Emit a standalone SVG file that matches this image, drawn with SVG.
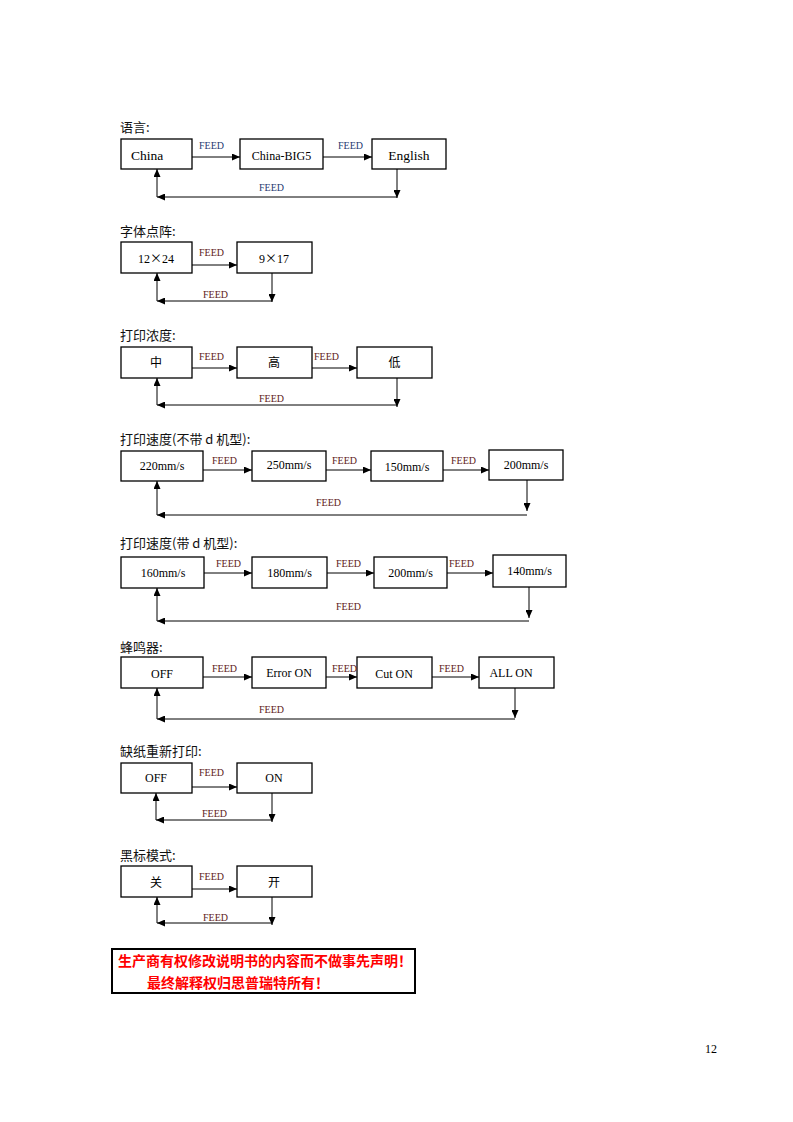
<svg xmlns="http://www.w3.org/2000/svg" width="793" height="1122" viewBox="0 0 793 1122">
<style>
.bg{fill:#ffffff}
.box{fill:#ffffff;stroke:#000000;stroke-width:1.3}
.t{font-family:"Liberation Serif","Times New Roman",serif;font-size:12px;fill:#000000;text-anchor:middle}
.tc{font-family:"Noto Sans CJK SC",sans-serif;font-size:12px;fill:#000000;text-anchor:middle}
.title{font-family:"Noto Sans CJK SC",sans-serif;font-size:13px;fill:#111111}
.fb{font-family:"Liberation Serif","Times New Roman",serif;font-size:10px;fill:#1f3a72}
.fr{font-family:"Liberation Serif","Times New Roman",serif;font-size:10px;fill:#5e1a1a}
.ln{fill:none;stroke:#000000;stroke-width:1;marker-end:url(#ah)}
.note{font-family:"Noto Sans CJK SC",sans-serif;font-size:14px;font-weight:bold;fill:#ff0000}
</style>
<defs>
<marker id="ah" markerUnits="userSpaceOnUse" markerWidth="9" markerHeight="7" refX="8" refY="3.5" orient="auto">
<path d="M0,0 L8,3.5 L0,7 z" fill="#000000"/>
</marker>
</defs>
<rect class="bg" x="0" y="0" width="793" height="1122"/>

<g id="titles">
<text class="title" x="120" y="132">语言:</text>
<text class="title" x="120" y="236">字体点阵:</text>
<text class="title" x="120" y="340">打印浓度:</text>
<text class="title" x="120" y="444">打印速度(不带 d 机型):</text>
<text class="title" x="120" y="548">打印速度(带 d 机型):</text>
<text class="title" x="120" y="652">蜂鸣器:</text>
<text class="title" x="120" y="756">缺纸重新打印:</text>
<text class="title" x="120" y="860">黑标模式:</text>
</g>

<!-- Section 1 -->
<g id="s1-china"><rect class="box" x="121" y="139" width="71" height="30"/><text class="t" x="131" y="160" style="text-anchor:start;font-size:13.5px">China</text></g>
<g id="s1-big5"><rect class="box" x="240" y="139" width="83" height="30"/><text class="t" x="281.5" y="160">China-BIG5</text></g>
<g id="s1-english"><rect class="box" x="372" y="139" width="74" height="30"/><text class="t" x="409" y="160" style="font-size:13.5px">English</text></g>

<!-- Section 2 -->
<g id="s2-1224"><rect class="box" x="121" y="242" width="71" height="31"/><text class="t" x="156" y="263">12<tspan font-family="Noto Sans CJK SC">×</tspan>24</text></g>
<g id="s2-917"><rect class="box" x="237" y="242" width="75" height="31"/><text class="t" x="274" y="263">9<tspan font-family="Noto Sans CJK SC">×</tspan>17</text></g>

<!-- Section 3 -->
<g id="s3-mid"><rect class="box" x="121" y="347" width="71" height="31"/><text class="tc" x="156" y="367">中</text></g>
<g id="s3-high"><rect class="box" x="237" y="347" width="75" height="31"/><text class="tc" x="274" y="367">高</text></g>
<g id="s3-low"><rect class="box" x="357" y="347" width="75" height="31"/><text class="tc" x="394.5" y="367">低</text></g>

<!-- Section 4 -->
<g id="s4-220"><rect class="box" x="121" y="451" width="82" height="30"/><text class="t" x="162" y="470">220mm/s</text></g>
<g id="s4-250"><rect class="box" x="252" y="451" width="74" height="30"/><text class="t" x="289" y="469">250mm/s</text></g>
<g id="s4-150"><rect class="box" x="371" y="451" width="72" height="30"/><text class="t" x="407" y="471">150mm/s</text></g>
<g id="s4-200"><rect class="box" x="489" y="450" width="74" height="30"/><text class="t" x="526" y="469">200mm/s</text></g>

<!-- Section 5 -->
<g id="s5-160"><rect class="box" x="121" y="557" width="83" height="31"/><text class="t" x="163" y="577">160mm/s</text></g>
<g id="s5-180"><rect class="box" x="252" y="557" width="75" height="31"/><text class="t" x="289.5" y="577">180mm/s</text></g>
<g id="s5-200"><rect class="box" x="374" y="557" width="73" height="31"/><text class="t" x="410.5" y="577">200mm/s</text></g>
<g id="s5-140"><rect class="box" x="493" y="555" width="73" height="32"/><text class="t" x="529.5" y="575">140mm/s</text></g>

<!-- Section 6 -->
<g id="s6-off"><rect class="box" x="121" y="657" width="82" height="31"/><text class="t" x="162" y="678">OFF</text></g>
<g id="s6-error"><rect class="box" x="252" y="657" width="74" height="31"/><text class="t" x="289" y="677">Error ON</text></g>
<g id="s6-cut"><rect class="box" x="357" y="657" width="75" height="31"/><text class="t" x="394" y="678">Cut ON</text></g>
<g id="s6-all"><rect class="box" x="479" y="657" width="75" height="31"/><text class="t" x="511" y="677">ALL ON</text></g>

<!-- Section 7 -->
<g id="s7-off"><rect class="box" x="121" y="763" width="71" height="30"/><text class="t" x="156" y="782">OFF</text></g>
<g id="s7-on"><rect class="box" x="237" y="763" width="75" height="30"/><text class="t" x="274" y="782">ON</text></g>

<!-- Section 8 -->
<g id="s8-close"><rect class="box" x="121" y="866" width="71" height="31"/><text class="tc" x="156" y="887">关</text></g>
<g id="s8-open"><rect class="box" x="237" y="866" width="75" height="31"/><text class="tc" x="274" y="887">开</text></g>

<g id="connectors">
<!-- s1 -->
<path class="ln" d="M192,157 H240"/>
<path class="ln" d="M323,157 H372"/>
<path class="ln" d="M397,169 V198"/>
<path class="ln" d="M397,197 H157"/>
<path class="ln" d="M157,197 V169"/>
<!-- s2 -->
<path class="ln" d="M192,265 H237"/>
<path class="ln" d="M272,273 V302"/>
<path class="ln" d="M272,301 H157"/>
<path class="ln" d="M157,301 V273"/>
<!-- s3 -->
<path class="ln" d="M192,368 H237"/>
<path class="ln" d="M312,368 H357"/>
<path class="ln" d="M397,378 V407"/>
<path class="ln" d="M397,405 H157"/>
<path class="ln" d="M157,405 V378"/>
<!-- s4 -->
<path class="ln" d="M203,470 H252"/>
<path class="ln" d="M326,470 H371"/>
<path class="ln" d="M443,470 H489"/>
<path class="ln" d="M527,480 V511"/>
<path class="ln" d="M527,515 H157"/>
<path class="ln" d="M157,515 V481"/>
<!-- s5 -->
<path class="ln" d="M204,573 H252"/>
<path class="ln" d="M327,573 H374"/>
<path class="ln" d="M447,573 H493"/>
<path class="ln" d="M529,587 V618"/>
<path class="ln" d="M529,621 H157"/>
<path class="ln" d="M157,621 V588"/>
<!-- s6 -->
<path class="ln" d="M203,677 H252"/>
<path class="ln" d="M326,677 H357"/>
<path class="ln" d="M432,677 H479"/>
<path class="ln" d="M515,688 V718"/>
<path class="ln" d="M515,719 H157"/>
<path class="ln" d="M157,719 V688"/>
<!-- s7 -->
<path class="ln" d="M192,787 H237"/>
<path class="ln" d="M272,793 V822"/>
<path class="ln" d="M272,820 H156"/>
<path class="ln" d="M156,820 V793"/>
<!-- s8 -->
<path class="ln" d="M192,889 H237"/>
<path class="ln" d="M272,897 V925"/>
<path class="ln" d="M272,923 H157"/>
<path class="ln" d="M157,923 V897"/>

<!-- labels -->
<text class="fb" x="199" y="149">FEED</text>
<text class="fb" x="338" y="149">FEED</text>
<text class="fb" x="259" y="191">FEED</text>

<text class="fr" x="199" y="256">FEED</text>
<text class="fr" x="203" y="298">FEED</text>

<text class="fr" x="199" y="360">FEED</text>
<text class="fr" x="314" y="360">FEED</text>
<text class="fr" x="259" y="402">FEED</text>

<text class="fr" x="212" y="464">FEED</text>
<text class="fr" x="332" y="464">FEED</text>
<text class="fr" x="451" y="464">FEED</text>
<text class="fr" x="316" y="506">FEED</text>

<text class="fr" x="216" y="567">FEED</text>
<text class="fr" x="336" y="567">FEED</text>
<text class="fr" x="449" y="567">FEED</text>
<text class="fr" x="336" y="610">FEED</text>

<text class="fr" x="212" y="672">FEED</text>
<text class="fr" x="332" y="672">FEED</text>
<text class="fr" x="439" y="672">FEED</text>
<text class="fr" x="259" y="713">FEED</text>

<text class="fr" x="199" y="776">FEED</text>
<text class="fr" x="202" y="817">FEED</text>

<text class="fr" x="199" y="880">FEED</text>
<text class="fr" x="203" y="921">FEED</text>
</g>

<g id="notice">
<rect x="112" y="949" width="303" height="44" fill="#ffffff" stroke="#000000" stroke-width="2"/>
<text class="note" x="118" y="966">生产商有权修改说明书的内容而不做事先声明！</text>
<text class="note" x="147" y="988">最终解释权归思普瑞特所有！</text>
</g>

<text x="705" y="1053" font-family="Liberation Serif, Times New Roman, serif" font-size="12" fill="#000000">12</text>
</svg>
